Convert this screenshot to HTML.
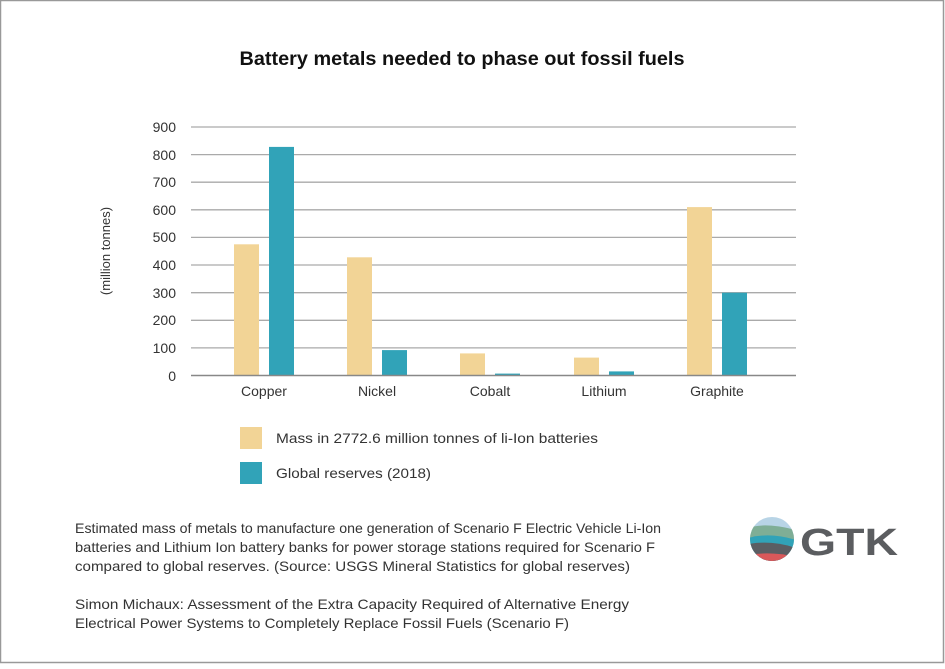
<!DOCTYPE html>
<html><head><meta charset="utf-8"><style>
body{margin:0;width:945px;height:664px;background:#fff;overflow:hidden}
svg text{font-family:"Liberation Sans",sans-serif;fill:#333}
</style></head><body>
<svg width="945" height="664" xmlns="http://www.w3.org/2000/svg">
<rect x="0.5" y="0.5" width="943" height="662" fill="#fff" stroke="#999" stroke-width="1.5"/>
<text x="462" y="65" text-anchor="middle" font-size="19" font-weight="bold" textLength="445" lengthAdjust="spacingAndGlyphs" style="fill:#111">Battery metals needed to phase out fossil fuels</text>
<g stroke="#aaa" stroke-width="1.3">
<line x1="191" x2="796" y1="127" y2="127"/><line x1="191" x2="796" y1="154.6" y2="154.6"/>
<line x1="191" x2="796" y1="182.2" y2="182.2"/><line x1="191" x2="796" y1="209.8" y2="209.8"/>
<line x1="191" x2="796" y1="237.4" y2="237.4"/><line x1="191" x2="796" y1="265" y2="265"/>
<line x1="191" x2="796" y1="292.7" y2="292.7"/><line x1="191" x2="796" y1="320.3" y2="320.3"/>
<line x1="191" x2="796" y1="347.9" y2="347.9"/>
</g>
<g font-size="14" text-anchor="end">
<text x="176" y="132">900</text><text x="176" y="160">800</text><text x="176" y="187">700</text>
<text x="176" y="215">600</text><text x="176" y="242">500</text><text x="176" y="270">400</text>
<text x="176" y="298">300</text><text x="176" y="325">200</text><text x="176" y="353">100</text>
<text x="176" y="381">0</text>
</g>
<text transform="translate(110,251) rotate(-90)" text-anchor="middle" font-size="13">(million tonnes)</text>
<g fill="#f2d496">
<rect x="234" y="244.3" width="25" height="131.2"/><rect x="347" y="257.3" width="25" height="118.2"/>
<rect x="460" y="353.4" width="25" height="22.1"/><rect x="574" y="357.6" width="25" height="17.9"/>
<rect x="687" y="207.1" width="25" height="168.4"/>
</g>
<g fill="#31a3b8">
<rect x="269" y="146.9" width="25" height="228.6"/><rect x="382" y="350.1" width="25" height="25.4"/>
<rect x="495" y="373.6" width="25" height="1.9"/><rect x="609" y="371.4" width="25" height="4.1"/>
<rect x="722" y="292.7" width="25" height="82.8"/>
</g>
<line x1="191" x2="796" y1="375.5" y2="375.5" stroke="#888" stroke-width="1.5"/>
<g font-size="14" text-anchor="middle">
<text x="264" y="396">Copper</text><text x="377" y="396">Nickel</text><text x="490" y="396">Cobalt</text>
<text x="604" y="396">Lithium</text><text x="717" y="396">Graphite</text>
</g>
<rect x="240" y="427" width="22" height="22" fill="#f2d496"/>
<rect x="240" y="462" width="22" height="22" fill="#31a3b8"/>
<text x="276" y="443" font-size="14" textLength="322" lengthAdjust="spacingAndGlyphs">Mass in 2772.6 million tonnes of li-Ion batteries</text>
<text x="276" y="478" font-size="14" textLength="155" lengthAdjust="spacingAndGlyphs">Global reserves (2018)</text>
<g font-size="14" fill="#222">
<text x="75" y="533" textLength="586" lengthAdjust="spacingAndGlyphs">Estimated mass of metals to manufacture one generation of Scenario F Electric Vehicle Li-Ion</text>
<text x="75" y="552" textLength="580" lengthAdjust="spacingAndGlyphs">batteries and Lithium Ion battery banks for power storage stations required for Scenario F</text>
<text x="75" y="571" textLength="555" lengthAdjust="spacingAndGlyphs">compared to global reserves. (Source: USGS Mineral Statistics for global reserves)</text>
<text x="75" y="609" textLength="554" lengthAdjust="spacingAndGlyphs">Simon Michaux: Assessment of the Extra Capacity Required of Alternative Energy</text>
<text x="75" y="628" textLength="494" lengthAdjust="spacingAndGlyphs">Electrical Power Systems to Completely Replace Fossil Fuels (Scenario F)</text>
</g>
<defs><clipPath id="c"><circle cx="772" cy="539" r="22"/></clipPath></defs>
<g clip-path="url(#c)">
<rect x="748" y="515" width="50" height="50" fill="#b8d4e6"/>
<path d="M748 528 Q765 522 796 530 L796 565 L748 565Z" fill="#7fae96"/>
<path d="M748 538 Q770 532 796 540 L796 565 L748 565Z" fill="#31a3b8"/>
<path d="M748 544 Q772 540 796 548 L796 565 L748 565Z" fill="#5a5e63"/>
<path d="M748 555 Q772 551 796 557 L796 565 L748 565Z" fill="#d9585a"/>
</g>
<text x="800" y="555" font-size="38" font-weight="bold" textLength="98" lengthAdjust="spacingAndGlyphs" style="fill:#5b5d60">GTK</text>
</svg>
</body></html>
